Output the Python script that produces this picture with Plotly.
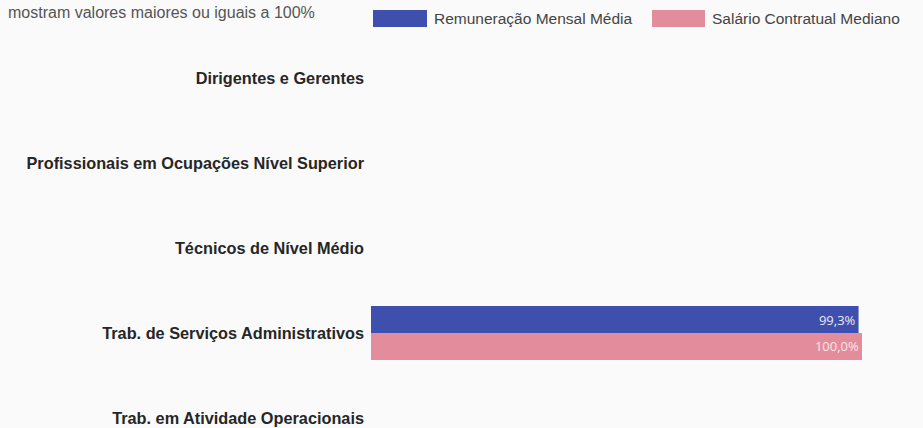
import plotly.graph_objects as go

categories = [
    "Dirigentes e Gerentes",
    "Profissionais em Ocupações Nível Superior",
    "Técnicos de Nível Médio",
    "Trab. de Serviços Administrativos",
    "Trab. em Atividade Operacionais",
]
remuneracao_media = [None, None, None, 99.3, None]
salario_mediano = [None, None, None, 100.0, None]
series_names = ["Remuneração Mensal Média", "Salário Contratual Mediano"]
note_text = "mostram valores maiores ou iguais a 100%"

BLUE = "#3F4FAE"
PINK = "#E38D9C"
FONT = "Liberation Sans, Arial, sans-serif"

def fmt(v):
    return "" if v is None else f"{v:.1f}".replace(".", ",") + "%"

fig = go.Figure()
fig.add_trace(go.Bar(
    y=categories, x=remuneracao_media, orientation="h", name=series_names[0],
    marker=dict(color=BLUE, line=dict(width=0)),
    text=[fmt(v) for v in remuneracao_media], textposition="inside",
    insidetextanchor="end", textfont=dict(color="#E8EAF6", size=13, family="Open Sans"),
    showlegend=False, hoverinfo="skip",
))
fig.add_trace(go.Bar(
    y=categories, x=salario_mediano, orientation="h", name=series_names[1],
    marker=dict(color=PINK, line=dict(width=0)),
    text=[fmt(v) for v in salario_mediano], textposition="inside",
    insidetextanchor="end", textfont=dict(color="#F8E4E8", size=13, family="Open Sans"),
    showlegend=False, hoverinfo="skip",
))

W, H = 923, 428
L = 371
PW = W - L
# legend drawn manually (large swatches)
legend_items = [(series_names[0], BLUE, 373, 427), (series_names[1], PINK, 652, 705)]
shapes = []
annotations = []
for name, col, x0, x1 in legend_items:
    shapes.append(dict(type="rect", xref="paper", yref="paper",
                       x0=(x0 - L) / PW, x1=(x1 - L) / PW,
                       y0=1 - 27 / H, y1=1 - 10 / H,
                       fillcolor=col, line=dict(width=0), layer="above"))
    annotations.append(dict(text=name, xref="paper", yref="paper",
                            x=(x1 + 5 - L) / PW, y=1 - 18.5 / H,
                            xanchor="left", yanchor="middle", showarrow=False,
                            font=dict(family=FONT, size=15.5, color="#444")))
annotations.append(dict(text=note_text, xref="paper", yref="paper",
                        x=(6 - L) / PW, y=1 - 12 / H, xanchor="left", yanchor="middle",
                        showarrow=False,
                        font=dict(family=FONT, size=16, color="#555")))

spacing = 85.0
top_val = -78.0 / spacing
bottom_val = top_val + H / spacing

fig.update_layout(
    width=W, height=H,
    margin=dict(l=L, r=0, t=0, b=0),
    paper_bgcolor="#FAFAFA", plot_bgcolor="rgba(0,0,0,0)",
    barmode="group", bargap=0.365, bargroupgap=0,
    shapes=shapes, annotations=annotations,
    xaxis=dict(range=[0, PW / 4.91], visible=False, fixedrange=True),
    yaxis=dict(type="category", range=[bottom_val, top_val], showgrid=False,
               zeroline=False, showline=False, ticks="", ticklabelstandoff=6,
               fixedrange=True,
               tickfont=dict(family=FONT, size=16.3, color="#262626", weight="bold")),
    showlegend=False,
)
fig.write_html("out.html", config={"displayModeBar": False},
               post_script="document.body.style.margin='0px';document.body.style.overflow='hidden';")
